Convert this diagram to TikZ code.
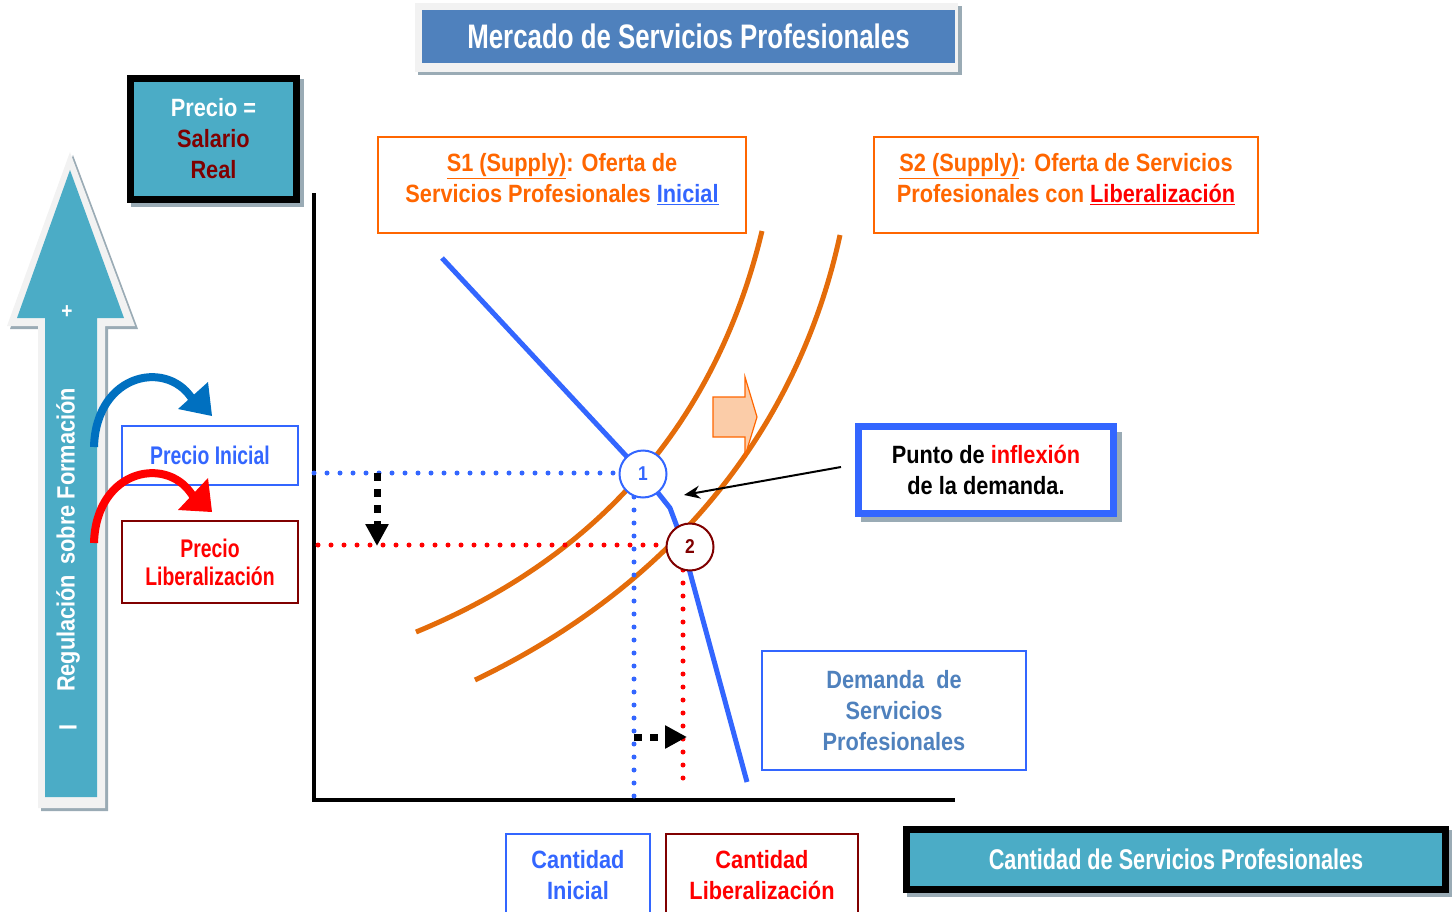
\documentclass[tikz,border=0pt]{standalone}
\usepackage{fontspec}
\setmainfont{Liberation Sans}[FakeStretch=0.87]
\newfontfamily\narrowfont{Liberation Sans}[FakeStretch=0.76]
\usetikzlibrary{arrows.meta}
\definecolor{titleblue}{HTML}{4F81BD}
\definecolor{teal}{HTML}{4BACC6}
\definecolor{orangeline}{HTML}{E46C0A}
\definecolor{orangetxt}{HTML}{FF6600}
\definecolor{bluel}{HTML}{3366FF}
\definecolor{darkred}{HTML}{800000}
\definecolor{arcblue}{HTML}{0070C0}
\definecolor{peach}{HTML}{FBCCA8}
\definecolor{shadowgray}{HTML}{9AABB5}
\definecolor{lightframe}{HTML}{F2F2F2}
\tikzset{
  fs/.style={font=\bfseries\fontsize{#1}{31}\selectfont},
  nfs/.style={font=\narrowfont\bfseries\fontsize{#1}{28}\selectfont},
  thinbox/.style={draw, line width=1.5pt, fill=white, inner sep=0pt},
  lbl/.style={align=center, fs=25},
  dotline/.style={line width=5pt, line cap=round, dash pattern=on 0pt off 13pt},
  dashedarrow/.style={line width=7pt, dash pattern=on 8pt off 8pt, -{Triangle[length=22pt,width=22pt]}},
  numcircle/.style={circle, line width=2pt, fill=white, minimum size=47pt, inner sep=0pt, fs=20},
  supply/.style={line width=5pt, orangeline},
}
\begin{document}
\begin{tikzpicture}[x=1pt,y=-1pt]
\useasboundingbox (0,0) rectangle (1455,912);

% ---- title ----
\fill[shadowgray] (418,6) rectangle (962,75);
\fill[lightframe] (415,3) rectangle (958,72);
\node[fill=titleblue, minimum width=533pt, minimum height=53pt, inner sep=0pt, text=white, nfs=34] (title) at (688.5,36.5) {Mercado de Servicios Profesionales};

% ---- Precio = Salario Real ----
\fill[shadowgray] (131,79) rectangle (304,207);
\node[draw=black, line width=7pt, fill=teal, minimum width=166pt, minimum height=121pt, inner sep=0pt, lbl] (precio) at (213.5,139)
  {\textcolor{white}{Precio =}\\\textcolor{darkred}{Salario}\\\textcolor{darkred}{Real}};

% ---- big vertical arrow ----
\fill[shadowgray] (73,155) -- (138,329) -- (108,329) -- (108,811) -- (41,811) -- (41,329) -- (10,329) -- cycle;
\fill[lightframe] (70,152) -- (135,326) -- (105,326) -- (105,808) -- (38,808) -- (38,326) -- (7,326) -- cycle;
\fill[teal] (70,170) -- (124,318) -- (97,318) -- (97,797) -- (45,797) -- (45,318) -- (17,318) -- cycle;
\node[rotate=90, text=white, fs=25] (reg) at (68,540) {Regulación\, sobre Formación};
\node[rotate=90, text=white, fs=25] (minus) at (68,727) {I};
\node[text=white, fs=22] (plus) at (67,312) {+};

% ---- price boxes ----
\node[thinbox, draw=bluel, minimum width=176pt, minimum height=59pt, align=center, nfs=25.5, text=bluel] (pini) at (210,455.5) {Precio Inicial};
\node[thinbox, draw=darkred, minimum width=176pt, minimum height=82pt, align=center, nfs=25.5, text=red] (plib) at (210,562) {Precio\\Liberalización};

% ---- curved arrows ----
\draw[line width=8pt, arcblue] (94,447) .. controls (96,372) and (170,358) .. (194,402);
\fill[arcblue] (208,382) -- (212,416) -- (178,409) -- cycle;
\draw[line width=8pt, red] (94,543) .. controls (96,468) and (170,454) .. (194,498);
\fill[red] (208,478) -- (212,512) -- (178,510) -- cycle;

% ---- axes ----
\coordinate (origin) at (314,800);
\coordinate (ytop) at (314,193);
\coordinate (xend) at (955,800);
\draw[line width=4pt] (ytop) -- (origin) -- (xend);

% ---- supply boxes ----
\node[thinbox, draw=orangetxt, minimum width=368pt, minimum height=96pt] (s1box) at (562,185) {};
\node[lbl, text=orangetxt] (s1txt) at (562,179)
  {\underline{S1 (Supply)}: Oferta de\\Servicios Profesionales \textcolor{bluel}{\underline{Inicial}}};
\node[thinbox, draw=orangetxt, minimum width=384pt, minimum height=96pt] (s2box) at (1066,185) {};
\node[lbl, text=orangetxt] (s2txt) at (1066,179)
  {\underline{S2 (Supply)}: Oferta de Servicios\\Profesionales con \textcolor{red}{\underline{Liberalización}}};

% ---- supply curves ----
\draw[supply] (416,632) .. controls (620,548) and (722,398) .. (762,231);
\draw[supply] (475,680) .. controls (680,582) and (800,420) .. (840,235);

% ---- shift arrow ----
\draw[draw=orangetxt, fill=peach, line width=1.2pt] (713,397) -- (745,397) -- (745,377) -- (757,417) -- (745,456) -- (745,437) -- (713,437) -- cycle;

% ---- dotted guide lines ----
\coordinate (p1) at (643,474);
\coordinate (p2) at (690,547);
\coordinate (yq1) at (314,473);
\coordinate (yq2) at (318,545);
\coordinate (xq1) at (634,800);
\coordinate (xq2) at (683,790);
\draw[dotline, bluel] (yq1) -- (620,473);
\draw[dotline, bluel] (634,497) -- (xq1);
\draw[dotline, red] (yq2) -- (666,545);
\draw[dotline, red] (683,570) -- (xq2);

% ---- demand curve ----
\draw[line width=5pt, bluel, line join=round] (442,258) -- (p1) -- (670,508) -- (679,532) -- (747,782);

% ---- dashed black arrows ----
\coordinate (da1) at (377,473);
\coordinate (da2) at (377,546);
\coordinate (db1) at (634,737);
\coordinate (db2) at (687,737);
\draw[dashedarrow] (da1) -- (da2);
\draw[dashedarrow] (db1) -- (db2);

% ---- equilibrium circles ----
\node[numcircle, draw=bluel, text=bluel] (c1) at (p1) {1};
\node[numcircle, draw=darkred, text=darkred] (c2) at (p2) {2};

% ---- punto de inflexion ----
\fill[shadowgray] (861,432) rectangle (1122,522);
\node[draw=bluel, line width=7pt, fill=white, minimum width=255pt, minimum height=87pt, inner sep=0pt, lbl] (punto) at (986,470)
  {Punto de \textcolor{red}{inflexión}\\de la demanda.};
\coordinate (inflex) at (684,495);
\draw[line width=2pt, -{Stealth[length=16pt,width=13pt]}] (punto.west) ++(-14pt,3pt) -- (inflex);

% ---- demanda box ----
\node[thinbox, draw=bluel, minimum width=264pt, minimum height=119pt, lbl, text=titleblue] (dem) at (894,710.5)
  {Demanda\ \ de\\Servicios\\Profesionales};

% ---- quantity boxes ----
\node[thinbox, draw=bluel, minimum width=144pt, minimum height=90pt, anchor=north] (qini) at (578,833) {};
\node[lbl, text=bluel] (qinitxt) at (578,875) {Cantidad\\Inicial};
\node[thinbox, draw=darkred, minimum width=192pt, minimum height=90pt, anchor=north] (qlib) at (762,833) {};
\node[lbl, text=red] (qlibtxt) at (762,875) {Cantidad\\Liberalización};

% ---- x-axis label ----
\fill[shadowgray] (907,830) rectangle (1452,897);
\node[draw=black, line width=7pt, fill=teal, minimum width=539pt, minimum height=60pt, inner sep=0pt, text=white, nfs=28.5] (xlabel) at (1176,859.5) {Cantidad de Servicios Profesionales};
\end{tikzpicture}
\end{document}
